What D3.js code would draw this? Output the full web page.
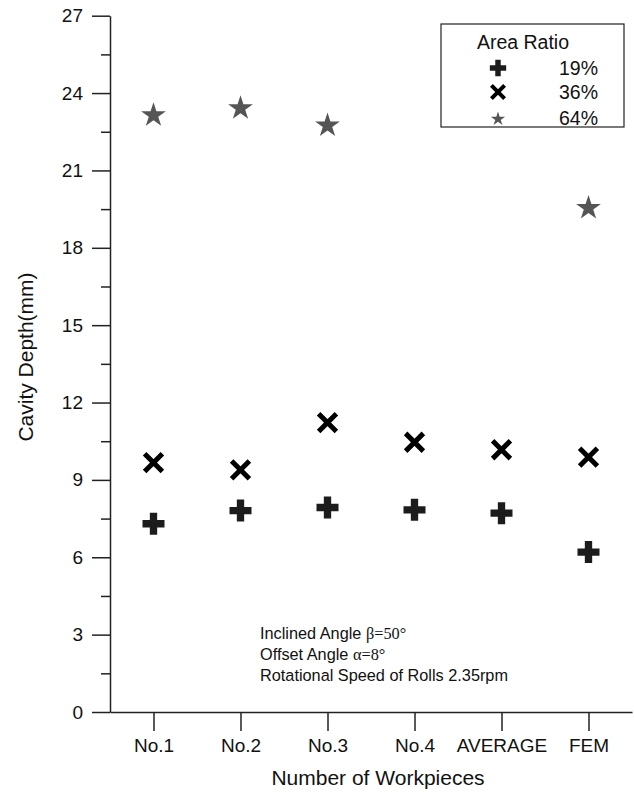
<!DOCTYPE html>
<html><head><meta charset="utf-8">
<script src="https://cdn.jsdelivr.net/npm/d3@7"></script>
<style>
body{margin:0;background:#fff;}
svg{display:block;}
text{font-family:"Liberation Sans",Arial,sans-serif;fill:#111;}
</style></head>
<body>
<script>
const categories = ["No.1","No.2","No.3","No.4","AVERAGE","FEM"];
const ratio19 = [7.30, 7.81, 7.93, 7.84, 7.71, 6.20];
const ratio36 = [9.67, 9.39, 11.22, 10.46, 10.17, 9.88];
const ratio64 = [23.18, 23.45, 22.78, null, null, 19.58];
const yTicks = [0,3,6,9,12,15,18,21,24,27];
const yMinor = [1.5,4.5,7.5,10.5,13.5,16.5,19.5,22.5,25.5];
const seriesNames = ["19%","36%","64%"];

const W=634,H=800;
const svg=d3.select("body").append("svg").attr("width",W).attr("height",H);
const x=d3.scalePoint().domain(categories).range([110,632]).padding(0.5);
const y=d3.scaleLinear().domain([0,27]).range([712,15.7]);

const axisColor="#222";
// y axis
const gy=svg.append("g").attr("transform","translate(110,0)");
gy.call(d3.axisLeft(y).tickValues(yTicks).tickSize(18).tickPadding(9).tickSizeOuter(0));
gy.append("g").call(d3.axisLeft(y).tickValues(yMinor).tickSize(9).tickFormat("")).select(".domain").remove();
gy.selectAll("path,line").attr("stroke",axisColor).attr("stroke-width",1.5);
gy.selectAll("text").attr("font-size",19).attr("font-family","Liberation Sans, Arial, sans-serif").attr("fill","#111");

// x axis
const gx=svg.append("g").attr("transform","translate(0,712)");
gx.call(d3.axisBottom(x).tickSize(19).tickPadding(8).tickSizeOuter(0));
gx.selectAll("path,line").attr("stroke",axisColor).attr("stroke-width",1.5);
gx.selectAll("text").attr("font-size",19).attr("font-family","Liberation Sans, Arial, sans-serif").attr("fill","#111");

// titles
svg.append("text").attr("x",378).attr("y",785).attr("text-anchor","middle").attr("font-size",21).text("Number of Workpieces");
svg.append("text").attr("transform","translate(33,357) rotate(-90)").attr("text-anchor","middle").attr("font-size",21).text("Cavity Depth(mm)");

// markers
const crossPath=d3.symbol().type(d3.symbolCross).size(269)();
const timesPath=d3.symbol().type(d3.symbolTimes).size(208)();
const starPath=d3.symbol().type(d3.symbolStar).size(190)();

svg.append("g").selectAll("path").data(categories.map((c,i)=>[c,ratio19[i]]).filter(d=>d[1]!=null))
  .join("path").attr("d",crossPath).attr("fill","#1c1c1c")
  .attr("transform",d=>`translate(${x(d[0])},${y(d[1])})`);
svg.append("g").selectAll("path").data(categories.map((c,i)=>[c,ratio36[i]]).filter(d=>d[1]!=null))
  .join("path").attr("d",timesPath).attr("fill","none").attr("stroke","#000").attr("stroke-width",5)
  .attr("transform",d=>`translate(${x(d[0])},${y(d[1])})`);
svg.append("g").selectAll("path").data(categories.map((c,i)=>[c,ratio64[i]]).filter(d=>d[1]!=null))
  .join("path").attr("d",starPath).attr("fill","#555")
  .attr("transform",d=>`translate(${x(d[0])},${y(d[1])+1})`);

// annotation
const ann=svg.append("g").attr("font-size",16.3);
const l1=ann.append("text").attr("x",260).attr("y",639);
l1.append("tspan").text("Inclined Angle ");
l1.append("tspan").attr("font-family","Liberation Serif, Times New Roman, serif").text("β=50°");
const l2=ann.append("text").attr("x",260).attr("y",660);
l2.append("tspan").text("Offset Angle ");
l2.append("tspan").attr("font-family","Liberation Serif, Times New Roman, serif").text("α=8°");
ann.append("text").attr("x",260).attr("y",681).text("Rotational Speed of Rolls 2.35rpm");

// legend
const lg=svg.append("g");
lg.append("rect").attr("x",441).attr("y",24).attr("width",183).attr("height",103)
  .attr("fill","#fff").attr("stroke","#222").attr("stroke-width",1.2);
lg.append("text").attr("x",523).attr("y",49).attr("text-anchor","middle").attr("font-size",19.5).text("Area Ratio");
const legY=[68,92,118];
const legShapes=[
  {d:d3.symbol().type(d3.symbolCross).size(148)(),fill:"#1c1c1c",stroke:"none",sw:0},
  {d:d3.symbol().type(d3.symbolTimes).size(115)(),fill:"none",stroke:"#000",sw:4},
  {d:d3.symbol().type(d3.symbolStar).size(63)(),fill:"#555",stroke:"none",sw:0}
];
seriesNames.forEach((n,i)=>{
  lg.append("path").attr("d",legShapes[i].d).attr("fill",legShapes[i].fill)
    .attr("stroke",legShapes[i].stroke).attr("stroke-width",legShapes[i].sw)
    .attr("transform",`translate(498,${legY[i]+(i==2?1:0)})`);
  lg.append("text").attr("x",598).attr("y",legY[i]+7).attr("text-anchor","end").attr("font-size",19.5).text(n);
});
</script>
</body></html>
